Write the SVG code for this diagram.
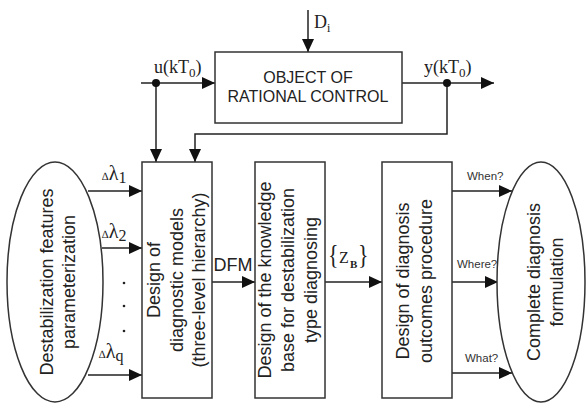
<svg xmlns="http://www.w3.org/2000/svg" width="587" height="403" viewBox="0 0 587 403">
<style>
.box{fill:#fff;stroke:#333;stroke-width:1.5}
.ln{fill:none;stroke:#222;stroke-width:1.5}
.lna{fill:none;stroke:#222;stroke-width:1.5;marker-end:url(#ah)}
.t{font-family:"Liberation Sans",Arial,sans-serif;font-size:18px;fill:#222;text-anchor:middle}
.tc{font-family:"Liberation Sans",Arial,sans-serif;font-size:16px;fill:#222;text-anchor:middle}
.s{font-family:"Liberation Sans",Arial,sans-serif;font-size:11.5px;fill:#333}
.m{font-family:"Liberation Serif","Times New Roman",serif;fill:#222}
</style>
<defs>
<marker id="ah" viewBox="0 0 13 12" refX="13" refY="6" markerWidth="13" markerHeight="12" markerUnits="userSpaceOnUse" orient="auto">
<path d="M0,0 L13,6 L0,12 z" fill="#111"/>
</marker>
</defs>

<g id="connectors">
<line class="lna" x1="308" y1="10" x2="308" y2="52"/>
<line class="lna" x1="141" y1="83" x2="215" y2="83"/>
<line class="lna" x1="402" y1="83" x2="494" y2="83"/>
<polyline class="lna" points="156,83 156,162"/>
<polyline class="lna" points="447,83 447,134 195,134 195,162"/>
<circle cx="156" cy="83" r="4" fill="#111"/>
<circle cx="447" cy="83" r="4" fill="#111"/>
<line class="lna" x1="88" y1="191" x2="142" y2="191"/>
<line class="lna" x1="102" y1="248" x2="142" y2="248"/>
<line class="lna" x1="88" y1="375" x2="142" y2="375"/>
<line class="lna" x1="212" y1="282" x2="255" y2="282"/>
<line class="lna" x1="325" y1="282" x2="382" y2="282"/>
<line class="lna" x1="452" y1="191" x2="512" y2="191"/>
<line class="lna" x1="452" y1="282" x2="498" y2="282"/>
<line class="lna" x1="452" y1="373" x2="512" y2="373"/>
<circle cx="124" cy="283" r="1.3" fill="#222"/>
<circle cx="124" cy="306" r="1.3" fill="#222"/>
<circle cx="124" cy="331" r="1.3" fill="#222"/>
<text class="m" x="314" y="28" font-size="18">D<tspan font-size="12" dy="4">i</tspan></text>
<text class="m" x="154" y="73" font-size="18">u(kT<tspan font-size="13" dy="4">0</tspan><tspan dy="-4">)</tspan></text>
<text class="m" x="424" y="73" font-size="18">y(kT<tspan font-size="13" dy="4">0</tspan><tspan dy="-4">)</tspan></text>
<text class="m" x="102" y="180" font-size="20"><tspan font-size="11">∆</tspan>λ<tspan font-size="16" dy="3">1</tspan></text>
<text class="m" x="102" y="238" font-size="20"><tspan font-size="11">∆</tspan>λ<tspan font-size="16" dy="3">2</tspan></text>
<text class="m" x="99" y="358" font-size="20"><tspan font-size="11">∆</tspan>λ<tspan font-size="16" dy="3">q</tspan></text>
<text class="t" x="233" y="271">DFM</text>
<text class="m" font-size="22" transform="translate(328,264) scale(1,1.25)">{</text>
<text class="m" font-size="16"><tspan x="339" y="263">Z</tspan><tspan x="350" y="268" font-size="11" font-weight="bold">B</tspan></text>
<text class="m" font-size="22" transform="translate(358,264) scale(1,1.25)">}</text>
<text class="s" x="467" y="180">When?</text>
<text class="s" x="457" y="268">Where?</text>
<text class="s" x="465" y="362">What?</text>
</g>

<g id="object">
<rect class="box" x="215" y="52" width="187" height="71"/>
<text class="tc" x="308" y="83">OBJECT OF</text>
<text class="tc" x="308" y="102">RATIONAL CONTROL</text>
</g>

<g id="features">
<ellipse class="box" cx="55" cy="282" rx="48" ry="120"/>
<g transform="translate(0,282) rotate(-90)">
<text class="t" x="0" y="53">Destabilization features</text>
<text class="t" x="0" y="75">parameterization</text>
</g>
</g>

<g id="models">
<rect class="box" x="142" y="162" width="70" height="236"/>
<g transform="translate(0,280) rotate(-90)">
<text class="t" x="0" y="160">Design of</text>
<text class="t" x="0" y="183">diagnostic models</text>
<text class="t" x="0" y="205">(three-level hierarchy)</text>
</g>
</g>

<g id="knowledge">
<rect class="box" x="255" y="162" width="70" height="236"/>
<g transform="translate(0,280) rotate(-90)">
<text class="t" x="0" y="271">Design of the knowledge</text>
<text class="t" x="0" y="294">base for destabilization</text>
<text class="t" x="0" y="317">type diagnosing</text>
</g>
</g>

<g id="outcomes">
<rect class="box" x="382" y="162" width="70" height="236"/>
<g transform="translate(0,281) rotate(-90)">
<text class="t" x="0" y="409">Design of diagnosis</text>
<text class="t" x="0" y="432">outcomes procedure</text>
</g>
</g>

<g id="formulation">
<ellipse class="box" cx="541" cy="282" rx="44" ry="120"/>
<g transform="translate(0,282) rotate(-90)">
<text class="t" x="0" y="540">Complete diagnosis</text>
<text class="t" x="0" y="563">formulation</text>
</g>
</g>
</svg>
